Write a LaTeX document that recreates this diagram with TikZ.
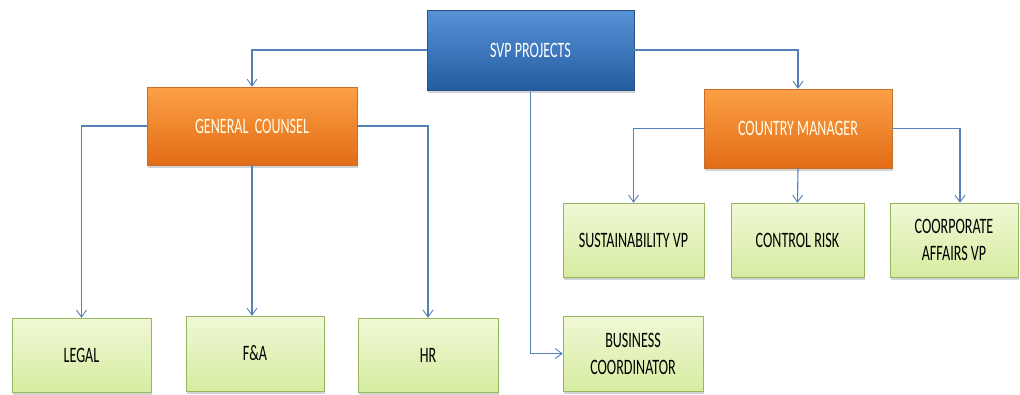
\documentclass[tikz,border=0pt]{standalone}
\usepackage{fontspec}
\setmainfont{Carlito}[FakeStretch=0.64]
\usetikzlibrary{arrows.meta}
\usetikzlibrary{shadows}
\usetikzlibrary{positioning}

\definecolor{linec}{RGB}{86,128,184}
\definecolor{bluetop}{RGB}{88,146,214}
\definecolor{bluebot}{RGB}{36,92,160}
\definecolor{blueline}{RGB}{40,80,140}
\definecolor{orangetop}{RGB}{252,160,70}
\definecolor{orangebot}{RGB}{226,108,22}
\definecolor{orangeline}{RGB}{200,110,40}
\definecolor{greentop}{RGB}{240,248,214}
\definecolor{greenbot}{RGB}{214,236,160}
\definecolor{greenline}{RGB}{150,182,96}

\tikzset{
  topbox/.style={top color=bluetop, bottom color=bluebot, draw=blueline, text=white},
  midbox/.style={top color=orangetop, bottom color=orangebot, draw=orangeline, text=white!92!yellow},
  leafbox/.style={top color=greentop, bottom color=greenbot, draw=greenline, text=black},
  hv/.style={to path={-| (\tikztotarget)}},
  vh/.style={to path={|- (\tikztotarget)}}
}

\begin{document}
\begin{tikzpicture}[x=1pt, y=-1pt]
	\useasboundingbox (0,0) rectangle (1020,394);
	\begin{scope}[every node/.style={rectangle, draw, align=center, inner sep=2pt,
	              font=\fontsize{22}{27}\selectfont,
	              drop shadow={shadow xshift=1pt, shadow yshift=-2.5pt, opacity=0.35}}]
		\node[topbox, minimum width=207pt, minimum height=80pt] (svp) at (530.5,50) {SVP PROJECTS};
		\node[midbox, minimum width=210pt, minimum height=78pt] (gc) at (252,126) {GENERAL\ \ COUNSEL};
		\node[midbox, minimum width=188pt, minimum height=79pt] (cm) at (798,128.5) {COUNTRY MANAGER};
		\node[leafbox, minimum width=139pt, minimum height=74pt] (legal) at (81.5,355) {LEGAL};
		\node[leafbox, minimum width=138pt, minimum height=75pt] (fa) at (255,353.5) {F\&A};
		\node[leafbox, minimum width=140pt, minimum height=74pt] (hr) at (428,355) {HR};
		\node[leafbox, minimum width=140pt, minimum height=75pt] (bc) at (633,353.5) {BUSINESS\\COORDINATOR};
		\node[leafbox, minimum width=141pt, minimum height=74pt] (sus) at (633.5,240) {SUSTAINABILITY VP};
		\node[leafbox, minimum width=133pt, minimum height=74pt] (cr) at (797.5,240) {CONTROL RISK};
		\node[leafbox, minimum width=128pt, minimum height=74pt] (ca) at (954,240) {COORPORATE\\AFFAIRS VP};
	\end{scope}

	\begin{scope}[>={Straight Barb[length=7pt, width=10pt, line width=0.9pt]},
	              every edge/.style={draw=linec, line width=1.1pt, ->}]
		\path (svp.west) edge[hv] (gc.north);
		\path (svp.east) edge[hv] (cm.north);
		\path (svp.south) edge[vh] (bc.west);
		\path (gc.west) edge[hv] (legal.north);
		\path (gc.south) edge (gc.south |- fa.north);
		\path (gc.east) edge[hv] (hr.north);
		\path (cm.west) edge[hv] (sus.north);
		\path (cm.south) edge (cr.north);
		\path (cm.east) edge[hv] ([xshift=6pt]ca.north);
	\end{scope}
\end{tikzpicture}
\end{document}
